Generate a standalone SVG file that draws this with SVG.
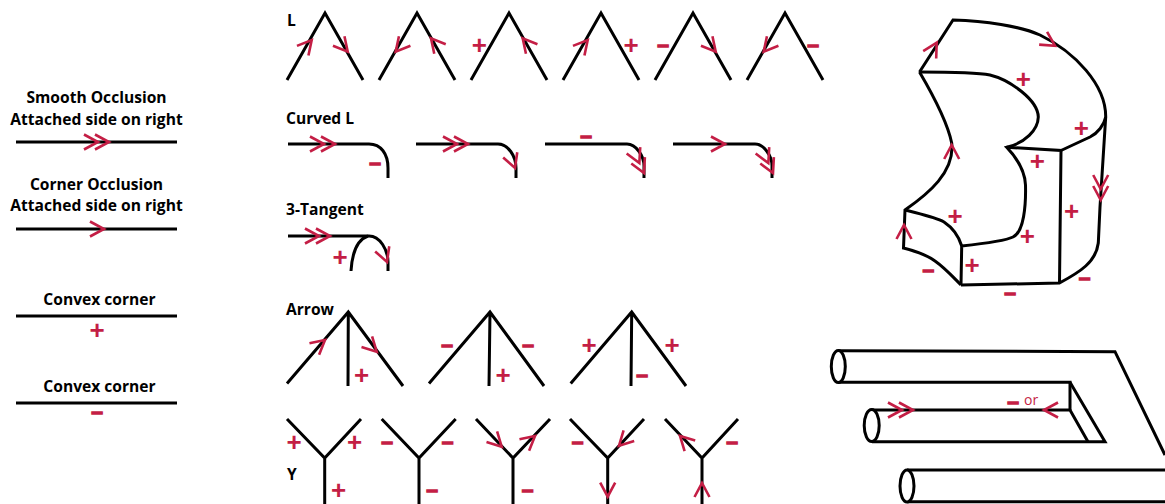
<svg xmlns="http://www.w3.org/2000/svg" xmlns:xlink="http://www.w3.org/1999/xlink" width="1165" height="504" viewBox="0 0 1165 504">
<style>
.k{fill:none;stroke:#000;stroke-width:3;stroke-linejoin:miter}
.e{fill:#fff;stroke:#000;stroke-width:3}
.a{fill:none;stroke:#c41e45;stroke-width:2.6}
.t{font-family:"Open Sans","Noto Sans",sans-serif;font-weight:700;font-size:15.6px;fill:#000}
.c{text-anchor:middle}
.p{font-family:"Liberation Sans",Arial,sans-serif;font-weight:700;font-size:26px;fill:#c41e45;text-anchor:middle}
.m{font-family:"Liberation Sans",Arial,sans-serif;font-weight:700;font-size:21px;fill:#c41e45;stroke:#c41e45;stroke-width:1.300px;text-anchor:middle}
.o{font-family:"Open Sans","Noto Sans",sans-serif;font-size:14px;fill:#c41e45}
</style>
<defs>
<path id="s" class="a" d="M-14,-7.500 L0,0 L-14,7.500"/>
<path id="d" class="a" d="M-14,-7.500 L0,0 L-14,7.500 M-25,-7.500 L-11,0 L-25,7.500"/>
</defs>
<rect width="1165" height="504" fill="#fff"/>

<g id="legend">
<text class="t c" x="96.500" y="103">Smooth Occlusion</text>
<text class="t c" x="96.500" y="124.500">Attached side on right</text>
<path class="k" d="M16,142H177"/>
<use href="#d" transform="translate(109,142)"/>
<text class="t c" x="96.500" y="190">Corner Occlusion</text>
<text class="t c" x="96.500" y="211">Attached side on right</text>
<path class="k" d="M16,229H177"/>
<use href="#s" transform="translate(104,229)"/>
<text class="t c" x="99.500" y="305">Convex corner</text>
<path class="k" d="M16,316H177"/>
<text class="p" x="97" y="339">+</text>
<text class="t c" x="99.500" y="392">Convex corner</text>
<path class="k" d="M16,403H177"/>
<text class="m" x="97" y="418">–</text>
</g>

<g id="l-junctions">
<text class="t" x="287" y="26">L</text>
<path class="k" d="M287,80L325,13L363,80M379,80L417,13L455,80M471,80L509,13L547,80M563,80L601,13L639,80M655,80L693,13L731,80M747,80L785,13L823,80"/>
<use href="#s" transform="translate(311.700,40) rotate(-50)"/>
<use href="#s" transform="translate(347.700,51.700) rotate(50)"/>
<use href="#s" transform="translate(395.700,51.700) rotate(130)"/>
<use href="#s" transform="translate(431,38.300) rotate(-130)"/>
<text class="p" x="479.300" y="54">+</text>
<use href="#s" transform="translate(522.700,38.300) rotate(-130)"/>
<use href="#s" transform="translate(587.700,40) rotate(-50)"/>
<text class="p" x="631" y="54">+</text>
<text class="m" x="663" y="51">–</text>
<use href="#s" transform="translate(715.700,51.700) rotate(50)"/>
<use href="#s" transform="translate(763.700,51.700) rotate(130)"/>
<text class="m" x="813" y="51">–</text>
</g>

<g id="curved-l">
<text class="t" x="286" y="124">Curved L</text>
<path class="k" d="M288,144H369C381,144 388,154 388,168V178"/>
<use href="#d" transform="translate(335,144)"/>
<text class="m" x="375" y="169">–</text>
<path class="k" d="M416,144H498C508,144 516,156 516,168V178"/>
<use href="#d" transform="translate(468,144)"/>
<use href="#s" transform="translate(515,168) rotate(70)"/>
<path class="k" d="M545,144H627C636,144 644,156 644,166V178"/>
<text class="m" x="586" y="142">–</text>
<use href="#d" transform="translate(644,173) rotate(65)"/>
<path class="k" d="M673,144H755C764,144 772,156 772,166V178"/>
<use href="#s" transform="translate(725,144)"/>
<use href="#d" transform="translate(773,173) rotate(65)"/>
</g>

<g id="three-tangent">
<text class="t" x="286" y="215">3-Tangent</text>
<path class="k" d="M288,236H369C380,236 388,250 388,262V271"/>
<path class="k" d="M351,271C352,255 356,240 368,236"/>
<use href="#d" transform="translate(330,236)"/>
<use href="#s" transform="translate(387,262) rotate(70)"/>
<text class="p" x="340" y="266">+</text>
</g>

<g id="arrow-junctions">
<text class="t" x="286" y="315">Arrow</text>
<path class="k" d="M287,383.500L348.300,312L403,386M348.300,312L348,386"/>
<use href="#s" transform="translate(325,340) rotate(-40)"/>
<use href="#s" transform="translate(376.700,351.700) rotate(45)"/>
<text class="p" x="361.700" y="384">+</text>
<path class="k" d="M429,383.500L490,312L544,386M490,312L489,386"/>
<text class="m" x="447" y="351">–</text>
<text class="m" x="528" y="351">–</text>
<text class="p" x="503" y="384">+</text>
<path class="k" d="M570.700,383.500L631.700,312L686,386M631.700,312L631,386"/>
<text class="p" x="589" y="354">+</text>
<text class="p" x="672" y="354">+</text>
<text class="m" x="642" y="381">–</text>
</g>

<g id="y-junctions">
<text class="t" x="287" y="480">Y</text>
<path class="k" d="M287,419L324.700,458L361,419M324.700,458V504"/>
<text class="p" x="294" y="451">+</text>
<text class="p" x="354.700" y="451">+</text>
<text class="p" x="338.700" y="499">+</text>
<path class="k" d="M381.700,419L419,458L455.700,419M419,458V504"/>
<text class="m" x="387" y="448">–</text>
<text class="m" x="447.700" y="448">–</text>
<text class="m" x="432" y="496">–</text>
<path class="k" d="M476,419L513,458L550,419M513,458V504"/>
<use href="#s" transform="translate(501.700,446.700) rotate(45)"/>
<use href="#s" transform="translate(535,436) rotate(-40)"/>
<text class="m" x="527.700" y="496">–</text>
<path class="k" d="M570,419L607.700,458L644,419M607.700,458V504"/>
<text class="m" x="577.700" y="448">–</text>
<use href="#s" transform="translate(619,445.700) rotate(135)"/>
<use href="#s" transform="translate(607.700,496.700) rotate(90)"/>
<path class="k" d="M665,419L702,458L738,419M702,458V504"/>
<use href="#s" transform="translate(680,436) rotate(-135)"/>
<text class="m" x="732" y="448">–</text>
<use href="#s" transform="translate(702,483) rotate(-90)"/>
</g>

<g id="solid">
<path class="k" d="M919.500,72L953,20C985,21 1020,26 1040,35C1075,52 1106,85 1105.700,117L1100,207L1098.300,243C1096,262 1080,272 1059.500,283L961,285"/>
<path class="k" d="M1059.500,283L1061,150.500L1006.700,147.300"/>
<path class="k" d="M919.500,72C945,72 975,72 990,75C1010,80 1038,100 1038.300,117C1038,130 1025,143 1006.700,147.300C1015,156 1025,170 1025.500,185C1026,205 1024,232 1013,237C1005,241 980,244 961.700,246L961,285"/>
<path class="k" d="M1061,150.500L1090,137C1098,133 1104,125 1105.700,117"/>
<path class="k" d="M919.500,72C933,95 948,125 951.700,143C955,172 928,194 905,210L903.500,248C915,251 927,255 935,261C945,268 953,277 961,285"/>
<path class="k" d="M905,210C920,214 935,217 944,222C953,228 959,237 961.700,246"/>
<use href="#s" transform="translate(936.700,42.700) rotate(-60)"/>
<use href="#s" transform="translate(1055,45.700) rotate(32)"/>
<use href="#s" transform="translate(951.700,145) rotate(-90)"/>
<use href="#s" transform="translate(904,225) rotate(-90)"/>
<use href="#d" transform="translate(1100.700,200) rotate(90)"/>
<text class="p" x="1023.300" y="88">+</text>
<text class="p" x="1081.300" y="136.700">+</text>
<text class="p" x="1037.300" y="170.300">+</text>
<text class="p" x="1071.700" y="219.700">+</text>
<text class="p" x="955" y="225">+</text>
<text class="p" x="1027.300" y="244.700">+</text>
<text class="p" x="972" y="274">+</text>
<text class="m" x="928.300" y="276">–</text>
<text class="m" x="1010" y="299.300">–</text>
<text class="m" x="1084.700" y="283.700">–</text>
</g>

<g id="tubes">
<path class="k" d="M838,350.700L1115,351.700L1165,455"/>
<path class="k" d="M838,382.300H1070V410"/>
<path class="k" d="M1070,382.300L1105,441.700H872"/>
<path class="k" d="M872,410H1070L1088,441.700"/>
<path class="k" d="M907,470H1165M907,501.700H1165"/>
<ellipse class="e" cx="838.300" cy="366.500" rx="7" ry="16"/>
<ellipse class="e" cx="871.700" cy="425.500" rx="7.500" ry="16"/>
<ellipse class="e" cx="907" cy="486" rx="7" ry="16"/>
<use href="#d" transform="translate(913,410)"/>
<use href="#s" transform="translate(1044,410) rotate(180)"/>
<text class="m" x="1013" y="407.700">–</text>
<text class="o" x="1024" y="405">or</text>
</g>
</svg>
